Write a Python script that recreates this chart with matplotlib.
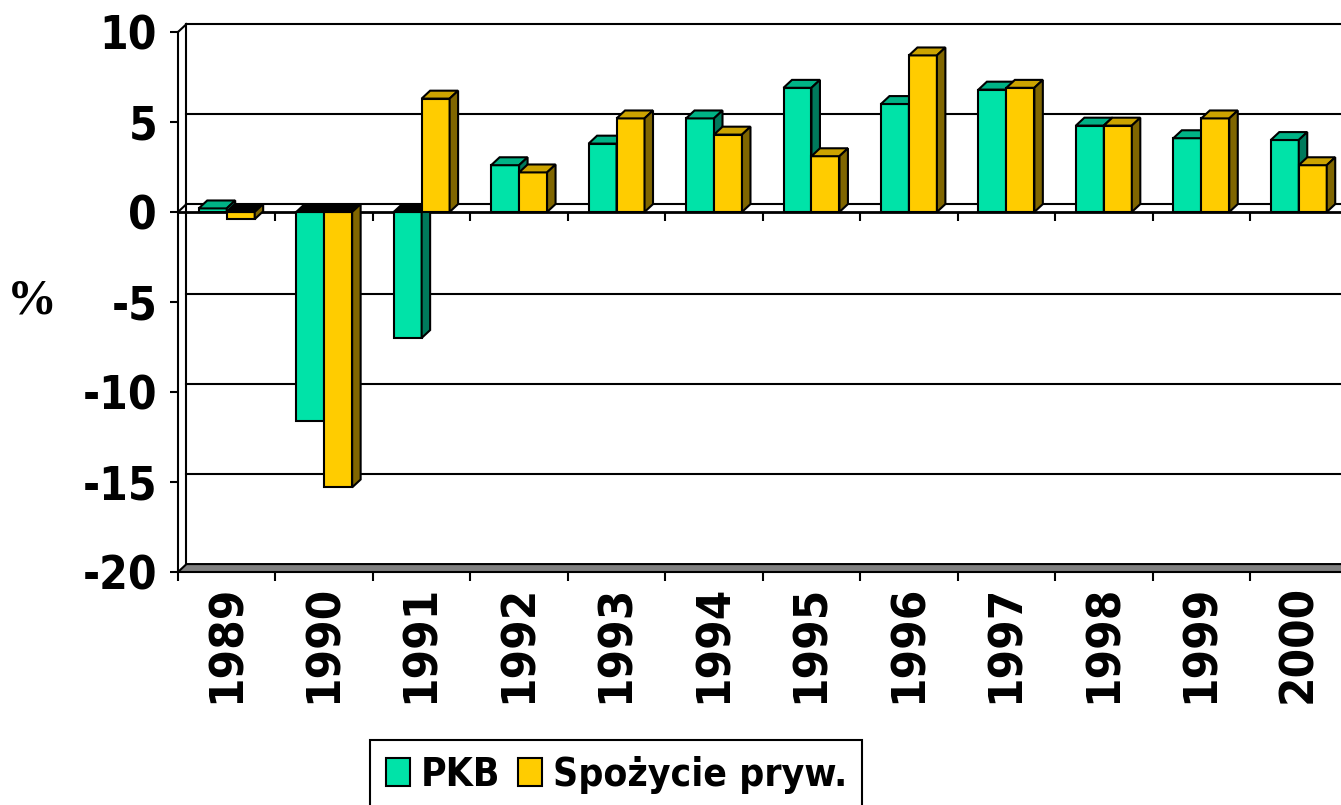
import matplotlib
matplotlib.use('Agg')
import matplotlib.pyplot as plt
from matplotlib.patches import Polygon, Rectangle, Patch

# dane: roczna zmiana PKB i spożycia prywatnego (%)
lata = ['1989', '1990', '1991', '1992', '1993', '1994',
        '1995', '1996', '1997', '1998', '1999', '2000']
pkb = [0.2, -11.6, -7.0, 2.6, 3.8, 5.2, 6.9, 6.0, 6.8, 4.8, 4.1, 4.0]
spozycie = [-0.4, -15.3, 6.3, 2.2, 5.2, 4.3, 3.1, 8.7, 6.9, 4.8, 5.2, 2.6]
podzialka_y = [-20, -15, -10, -5, 0, 5, 10]

# kolory (przód, góra, bok)
zielony = ('#00E3A8', '#00B386', '#007A5C')
zolty = ('#FFCC00', '#CCA300', '#806600')

plt.rcParams['font.family'] = 'DejaVu Sans'
plt.rcParams['font.weight'] = 'bold'
plt.rcParams['font.stretch'] = 'condensed'

fig = plt.figure(figsize=(13.41, 8.05), dpi=100)
ax = fig.add_axes([178 / 1341, 233 / 805, 1169.5 / 1341, 540 / 805])
ax.set_xlim(0, 12)
ax.set_ylim(-20, 10)
ax.patch.set_visible(False)
for s in ['top', 'right', 'bottom']:
    ax.spines[s].set_visible(False)
ax.spines['left'].set_linewidth(1.5)

ax.set_yticks(podzialka_y)
ax.set_yticklabels([str(v) for v in podzialka_y])
ax.tick_params(axis='y', direction='out', length=6, width=1.5, labelsize=33, pad=9)
ax.set_xticks(range(13))
ax.set_xticklabels([])
ax.tick_params(axis='x', direction='out', length=6.5, width=1.5)

# przesunięcie "głębi" 3D w jednostkach danych
DX, DY = 0.087, 0.44
W = 0.287

# tylna ściana z liniami siatki
for v in podzialka_y[1:]:
    ax.plot([DX, 12 + DX], [v + DY, v + DY], color='black', lw=1.5,
            clip_on=False, zorder=1)
ax.plot([DX, DX], [-20 + DY, 10 + DY], color='black', lw=1.5, clip_on=False, zorder=1)
ax.plot([0, DX], [10, 10 + DY], color='black', lw=1.5, clip_on=False, zorder=1)

# podłoga
ax.add_patch(Polygon([(0, -20), (12, -20), (12 + DX, -20 + DY), (DX, -20 + DY)],
                     closed=True, fc='#808080', ec='black', lw=1.5,
                     clip_on=False, zorder=2))

# płaszczyzna zera
ax.plot([0, 12], [0, 0], color='black', lw=2, clip_on=False, zorder=2)
ax.plot([0, DX], [0, DY], color='black', lw=1.5, zorder=2)
ax.vlines(range(1, 12), -0.5, 0, color='black', lw=1.5, zorder=2)


def slupek(x0, v, kolory):
    przod, gora, bok = kolory
    x1 = x0 + W
    ax.add_patch(Rectangle((x0, 0), W, v, fc=przod, ec='black', lw=1.5, zorder=3))
    yt = max(v, 0)
    ax.add_patch(Polygon([(x0, yt), (x1, yt), (x1 + DX, yt + DY), (x0 + DX, yt + DY)],
                         closed=True, fc=gora if v >= 0 else 'black',
                         ec='black', lw=1.5, zorder=3))
    ax.add_patch(Polygon([(x1, 0), (x1, v), (x1 + DX, v + DY), (x1 + DX, DY)],
                         closed=True, fc=bok, ec='black', lw=1.5, zorder=3))


for i in range(len(lata)):
    slupek(i + 0.5 - W, pkb[i], zielony)
    slupek(i + 0.5, spozycie[i], zolty)

for i, rok in enumerate(lata):
    ax.annotate(rok, xy=(i + 0.5, -20), xytext=(0, -9), textcoords='offset points',
                rotation=90, ha='center', va='top', fontsize=34,
                annotation_clip=False)

fig.text(32 / 1341, 1 - 302 / 805, '%', ha='center', va='center', fontsize=36,
         family='Liberation Serif', weight='bold')

uchwyty = [Patch(fc=zielony[0], ec='black', lw=1.5),
           Patch(fc=zolty[0], ec='black', lw=1.5)]
leg = fig.legend(uchwyty, ['PKB', 'Spożycie pryw.'], loc='upper left',
                 bbox_to_anchor=(370 / 1341, 1 - 740 / 805), ncol=2, fontsize=28,
                 frameon=True, fancybox=False, edgecolor='black', framealpha=1,
                 borderaxespad=0, handlelength=0.62, handleheight=0.72,
                 handletextpad=0.28, columnspacing=0.45, borderpad=0.4)
leg.get_frame().set_linewidth(1.5)

fig.savefig('out.png', dpi=100)
